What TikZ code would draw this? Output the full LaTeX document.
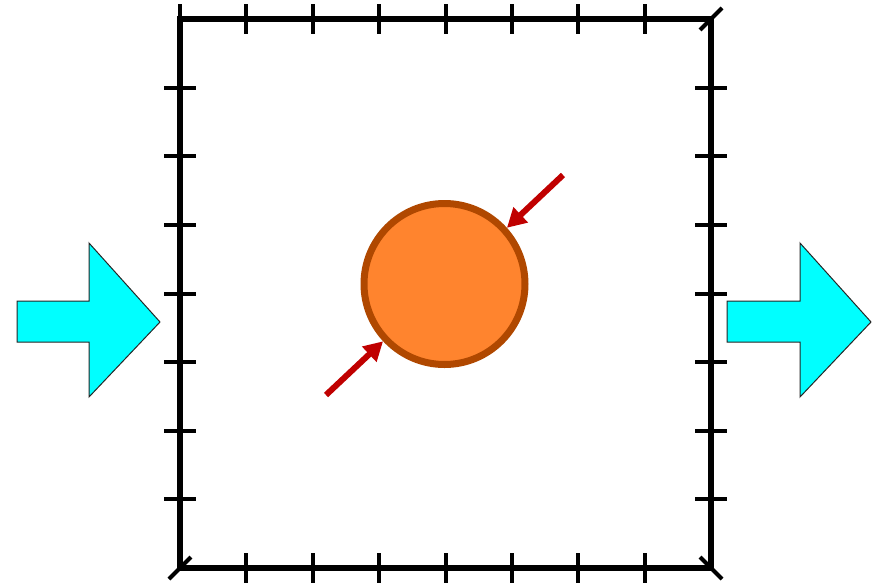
\documentclass[tikz,border=0pt]{standalone}
\usetikzlibrary{arrows.meta}
\definecolor{ballfill}{HTML}{FF842E}
\definecolor{ballrim}{HTML}{B04800}
\definecolor{redarrow}{HTML}{C00000}
\definecolor{cyanfill}{HTML}{00FFFF}
\tikzset{
  frameline/.style={line width=6pt, black, line join=miter},
  tickline/.style={line width=4pt, black},
  flowarrow/.style={fill=cyanfill, draw=black!85, line width=1pt, line join=miter},
  forcearrow/.style={line width=6pt, redarrow, -{Triangle[length=19pt,width=20pt]}},
  ballstyle/.style={circle, minimum size=161pt, inner sep=0pt, line width=7pt, draw=ballrim, fill=ballfill}
}
\begin{document}
\begin{tikzpicture}[x=1pt,y=-1pt]
\useasboundingbox (0,0) rectangle (879,582);
% frame
\draw[frameline] (180,19) rectangle (711,568);
% ticks top and bottom
\foreach \i in {1,...,7}{
  \pgfmathsetmacro{\xx}{180+66.375*\i}
  \draw[tickline] (\xx,4) -- (\xx,34);
  \draw[tickline] (\xx,553) -- (\xx,583);
}
% ticks left and right
\foreach \i in {1,...,7}{
  \pgfmathsetmacro{\yy}{19+68.625*\i}
  \draw[tickline] (164,\yy) -- (196,\yy);
  \draw[tickline] (695,\yy) -- (727,\yy);
}
% corner marks
\draw[tickline] (180,4) -- (180,19);
\draw[tickline] (700,30) -- (722,8);
\draw[tickline] (169,579) -- (191,557);
\draw[tickline] (700,557) -- (722,579);
% cyan flow arrows
\draw[flowarrow] (17,301) -- (89,301) -- (89,243) -- (160,322) -- (89,397) -- (89,342) -- (17,342) -- cycle;
\draw[flowarrow] (727,301) -- (800,301) -- (800,243) -- (871,322) -- (800,397) -- (800,342) -- (727,342) -- cycle;
% ball
\node[ballstyle] (ball) at (444.5,284) {};
% force arrows
\coordinate (fa) at (563,175);
\coordinate (fb) at (326,395);
\draw[forcearrow] (fa) -- (ball.42);
\draw[forcearrow] (fb) -- (ball.223);
\end{tikzpicture}
\end{document}
